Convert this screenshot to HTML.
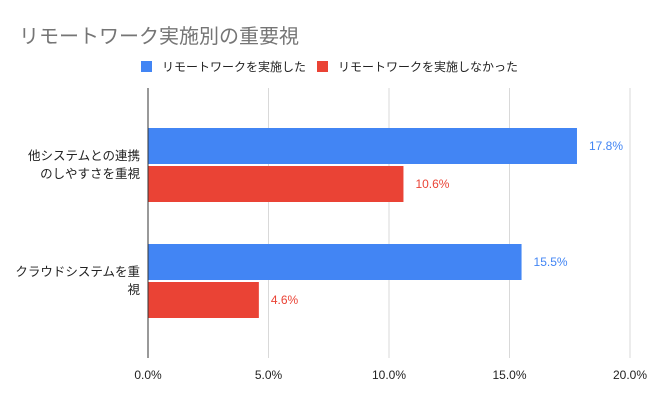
<!DOCTYPE html>
<html><head><meta charset="utf-8">
<style>
html,body{margin:0;padding:0;background:#fff;}
svg{display:block;font-family:"Liberation Sans","Noto Sans CJK JP",sans-serif;}
</style></head>
<body>
<svg id="chart" width="650" height="401" viewBox="0 0 650 401">
  <rect width="650" height="401" fill="#fff"/>
  <text x="19" y="43" font-size="20" fill="#757575">リモートワーク実施別の重要視</text>
  <g>
    <rect x="141" y="61" width="11" height="11" fill="#4285f4"/>
    <text x="162" y="71" font-size="12" fill="#222">リモートワークを実施した</text>
    <rect x="317" y="61" width="11" height="11" fill="#ea4335"/>
    <text x="338" y="71" font-size="12" fill="#222">リモートワークを実施しなかった</text>
  </g>
  <g id="grid"></g>
  <g id="bars"></g>
  <g id="labels"></g>
</svg>
<script>
const categories = [["他システムとの連携","のしやすさを重視"],["クラウドシステムを重","視"]];
const implemented = [17.8, 15.5];
const notImplemented = [10.6, 4.6];
const ticks = [0, 5, 10, 15, 20];
const tickLabels = ["0.0%","5.0%","10.0%","15.0%","20.0%"];

const NS = "http://www.w3.org/2000/svg";
const x0 = 148, x1 = 630, yTop = 88, yBot = 358;
const xScale = v => x0 + (v - 0) / (20 - 0) * (x1 - x0);
const groupStart = i => 128 + i * 116;
function mk(tag, attrs, parent){const e=document.createElementNS(NS,tag);for(const k in attrs)e.setAttribute(k,attrs[k]);parent.appendChild(e);return e;}
const grid = document.getElementById('grid'), bars = document.getElementById('bars'), labels = document.getElementById('labels');

ticks.forEach((t,i)=>{
  const x = xScale(t);
  if(i>0){
    const l = mk('line',{x1:x,x2:x,y1:yTop,y2:yBot,stroke:'#d9d9d9','stroke-width':1},grid);
    
    
  }
  const tx = mk('text',{x:x,y:379,'font-size':12,fill:'#222','text-anchor':'middle'},labels);
  tx.textContent = tickLabels[i];
  
  
});

categories.forEach((c,i)=>{
  const c0 = groupStart(i), h = 36;
  const b1 = mk('rect',{x:x0,y:c0,width:xScale(implemented[i])-x0,height:h,fill:'#4285f4'},bars);
  
  
  const b2 = mk('rect',{x:x0,y:c0+h+2,width:xScale(notImplemented[i])-x0,height:h,fill:'#ea4335'},bars);
  
  
  const v1 = mk('text',{x:xScale(implemented[i])+12,y:c0+h/2+4,'font-size':12,fill:'#4285f4'},labels);
  v1.textContent = implemented[i].toFixed(1)+'%';
  
  
  const v2 = mk('text',{x:xScale(notImplemented[i])+12,y:c0+h+2+h/2+4,'font-size':12,fill:'#ea4335'},labels);
  v2.textContent = notImplemented[i].toFixed(1)+'%';
  
  
  const cy = c0 + h + 1;
  c.forEach((line,j)=>{
    const t = mk('text',{x:140,y:cy + (j - (c.length-1)/2)*18 + 4,'font-size':12.5,fill:'#222','text-anchor':'end'},labels);
    t.textContent = line;
    
    
  });
});
const ax = mk('line',{x1:x0,x2:x0,y1:yTop,y2:yBot,stroke:'#333','stroke-width':1},bars);


</script>
</body></html>
